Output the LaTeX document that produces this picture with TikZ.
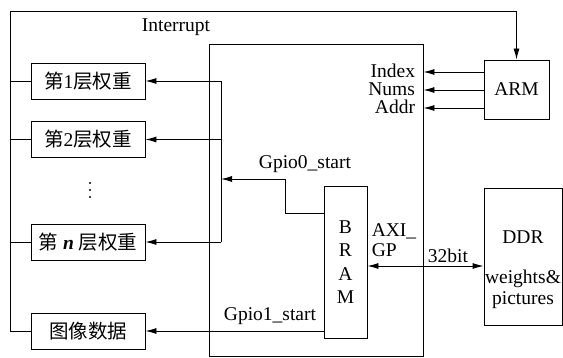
\documentclass[tikz,border=0pt]{standalone}
\usepackage{fontspec}
\setmainfont{Liberation Serif}
\newfontfamily\cjk{Noto Sans CJK SC}
\usepackage{tikz}
\usetikzlibrary{arrows.meta,positioning,calc}
\newcommand{\zh}[1]{{\cjk #1}}

\begin{document}
\begin{tikzpicture}[
  x=1pt, y=-1pt,
  font=\fontsize{19.5}{21}\selectfont,
  line width=0.9pt,
  blk/.style={draw, line width=0.9pt, inner sep=0pt},
  layer/.style={blk, minimum width=114pt, minimum height=36pt},
  lbl/.style={inner sep=0pt},
  arrow/.style={-{Latex[length=11pt,width=6pt]}},
  dblarrow/.style={{Latex[length=11pt,width=6pt]}-{Latex[length=11pt,width=6pt]}}]
  \useasboundingbox (0,0) rectangle (563,358);
  % FPGA side
  \node[blk, minimum width=214pt, minimum height=312pt] (fpga) at (316,200) {};
  \node[blk, minimum width=43pt, minimum height=152pt, align=center,
        font=\fontsize{19.5}{23.5}\selectfont] (bram) at (345.5,262) {B\\R\\A\\M};
  % weight and image buffers
  \node[layer] (w1) at (88,81) {\zh{第}1\zh{层权重}};
  \node[layer] (w2) at (88,139.5) {\zh{第}2\zh{层权重}};
  \coordinate (dots) at (90,190);
  \foreach \dy in {-7,0,7}
    \fill ($(dots)+(0,\dy)$) circle (1.1pt);
  \node[layer] (wn) at (88,242) {\zh{第} \textbf{\textit{n}} \zh{层权重}};
  \node[layer] (img) at (88,331) {\zh{图像数据}};
  % PS side
  \node[blk, minimum width=65pt, minimum height=59pt] (arm) at (516.5,89.5) {ARM};
  \node[blk, minimum width=78pt, minimum height=137pt] (ddr) at (523,256.5) {};
  \node[lbl, align=center] (ddrtxt) at (523,270) {DDR\\[19pt]weights\&\\pictures};
  \coordinate (bus) at (221,0);
  \coordinate (top) at (10,11);
  \coordinate (g0) at (285,179);
  % interrupt loop
  \draw[arrow] (img.west) -| (top) -| (arm.north);
  \foreach \b in {w1,w2,wn}
    \draw (\b.west) -- (\b.west -| top);
  \node[lbl] (intr) at (176,27) {Interrupt};
  % bus to layer buffers
  \draw (w1.east -| bus) -- (wn.east -| bus);
  \foreach \b in {w1,w2,wn}
    \draw[arrow] (\b.east -| bus) -- (\b.east);
  \draw[arrow] ([yshift=-28pt]bram.north west) -| (g0) -- (g0 -| bus);
  \node[lbl] (gp0) at (305,164) {Gpio0\_start};
  \draw[arrow] (img.east -| bram.west) -- (img.east);
  \node[lbl] (gp1) at (270,316) {Gpio1\_start};
  % ARM registers
  \foreach \dy/\t/\n in {-17.5/Index/ix, 0.5/Nums/nm, 18.5/Addr/ad} {
    \draw[arrow] ([yshift=-\dy pt]arm.west) -- ([yshift=-\dy pt]arm.west -| fpga.east);
    \node[lbl, anchor=east] (\n) at ($(fpga.east |- arm.west)+(-8,\dy-1)$) {\t};
  }
  % AXI link
  \coordinate (axi) at (0,266);
  \draw[dblarrow] (axi -| bram.east) -- (axi -| ddr.west);
  \node[lbl, align=left, font=\fontsize{19.5}{20}\selectfont] (axilbl) at (394,240) {AXI\_\\GP};
  \node[lbl] (bits) at (448,256) {32bit};
\end{tikzpicture}
\end{document}
